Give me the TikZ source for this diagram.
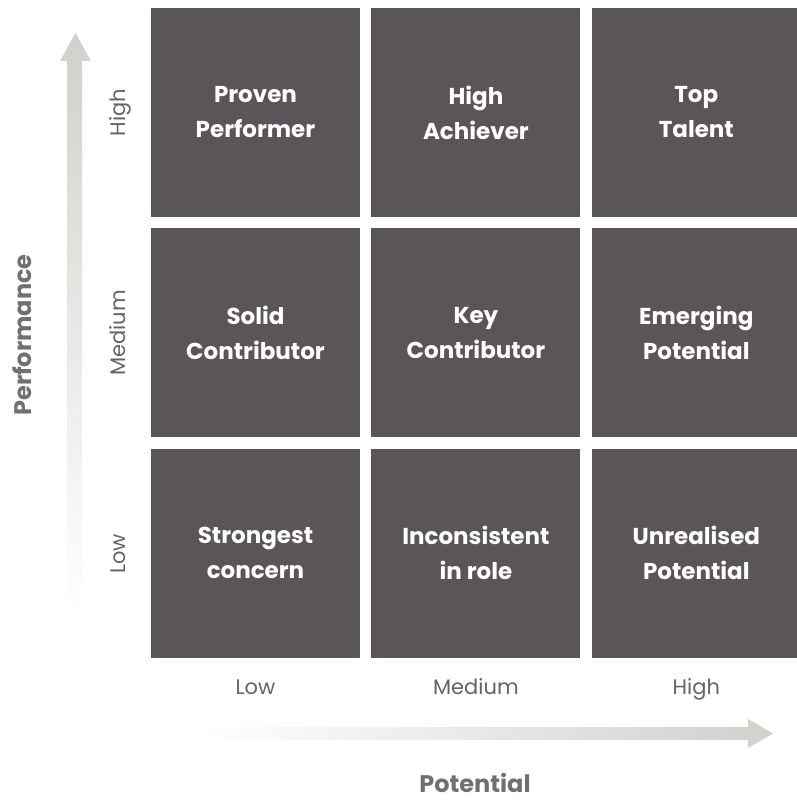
\documentclass[tikz,border=0pt]{standalone}
\usepackage{fontspec}
\setmainfont{Poppins}
\usetikzlibrary{positioning}

\definecolor{cellgray}{RGB}{90,85,88}
\definecolor{axisgray}{RGB}{208,208,204}
\definecolor{labelgray}{RGB}{100,100,100}
\definecolor{titlegray}{RGB}{112,112,112}

\begin{document}
\begin{tikzpicture}[
  x=1pt, y=-1pt,
  node distance=11pt and 11pt,
  cell/.style={rectangle, fill=cellgray, text=white, align=center, minimum width=209pt, minimum height=209pt, inner sep=0pt, font=\fontsize{23}{35}\selectfont\bfseries},
  rowlabel/.style={text=labelgray, rotate=90, text height=15pt, text depth=4pt, font=\fontsize{21}{24}\selectfont},
  collabel/.style={text=labelgray, text height=15pt, text depth=4pt, font=\fontsize{21}{24}\selectfont},
  axistitle/.style={text=titlegray, font=\fontsize{24}{28}\selectfont\bfseries}
]
\useasboundingbox (0,0) rectangle (796,800);

% Axis arrows (faded tails)
\shade[top color=axisgray, middle color=axisgray, bottom color=white]
  (67,615) -- (67,61) -- (60,61) -- (75.5,33) -- (91,61) -- (82,61) -- (82,615) -- cycle;
\shade[left color=white, middle color=axisgray, right color=axisgray]
  (200,727) -- (748,727) -- (748,719) -- (773,733.5) -- (748,748) -- (748,740) -- (200,740) -- cycle;

% Top row: high performance
\node[cell] (proven) at (255.5,112.5) {Proven\\Performer};
\node[cell, right=of proven] (achiever) {High\\Achiever};
\node[cell, right=of achiever] (top) {Top\\Talent};

% Middle row: medium performance
\node[cell, below=of proven] (solid) {Solid\\Contributor};
\node[cell, right=of solid] (key) {Key\\Contributor};
\node[cell, right=of key] (emerging) {Emerging\\Potential};

% Bottom row: low performance
\node[cell, below=of solid] (concern) {Strongest\\concern};
\node[cell, right=of concern] (inconsistent) {Inconsistent\\in role};
\node[cell, right=of inconsistent] (unrealised) {Unrealised\\Potential};

% Performance levels
\node[rowlabel] (perfhigh) at (120,112.5) {High};
\node[rowlabel] (perfmed) at (120,333) {Medium};
\node[rowlabel] (perflow) at (120,554) {Low};
\node[axistitle, rotate=90] (perf) at (22,335) {Performance};

% Potential levels
\node[collabel] (pothigh) at ([yshift=-31pt]unrealised.south) {High};
\node[collabel] (potmed) at ([yshift=-31pt]inconsistent.south) {Medium};
\node[collabel] (potlow) at ([yshift=-31pt]concern.south) {Low};
\node[axistitle] (pot) at (475,783) {Potential};

\end{tikzpicture}
\end{document}
